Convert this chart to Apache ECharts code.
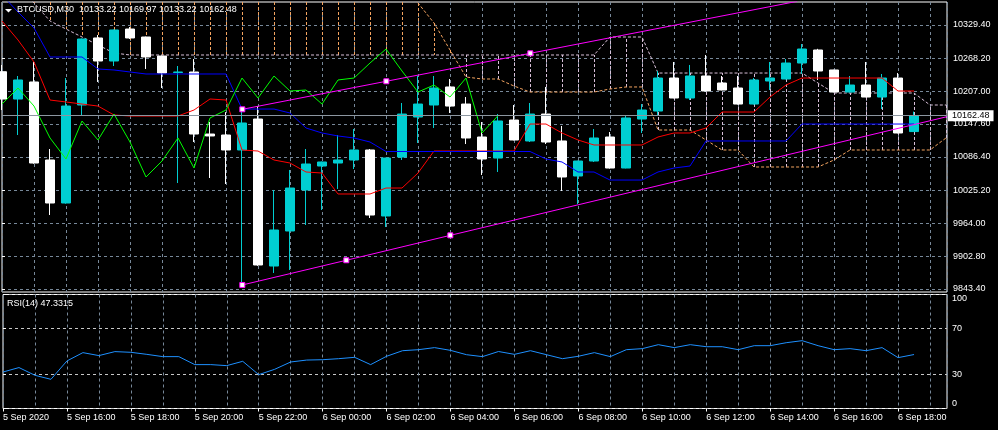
<!DOCTYPE html>
<html><head><meta charset="utf-8">
<script src="https://cdn.jsdelivr.net/npm/echarts@6/dist/echarts.min.js"></script>
<style>html,body{margin:0;padding:0;background:#000;}#c{width:998px;height:430px;}</style>
</head><body><div id="c"></div>
<script>
// ---- data (BTCUSD, M30; bar 0 = 5 Sep 2020 14:00) ----
const opens  = [10243.4,10193.1,10224.5,10080.9,10001.7,10182.1,10305.5,10263.1,10322.0,10307.3,10272.3,10242.0,10242.9,10128.7,10126.9,10099.3,10156.3,9885.7,9950.2,10025.7,10069.8,10075.3,10080.9,10099.3,9977.8,10086.3,10160.0,10182.1,10215.3,10183.9,10123.2,10084.5,10154.5,10115.9,10165.5,10115.9,10051.4,10079.0,10123.2,10066.1,10156.3,10171.0,10231.8,10195.0,10235.5,10222.6,10213.4,10183.9,10226.3,10230.0,10259.4,10283.4,10246.6,10206.0,10218.9,10196.8,10231.8,10133.22];
const closes = [10193.1,10228.2,10075.3,10001.7,10180.2,10303.6,10263.1,10320.2,10305.5,10270.5,10241.0,10242.9,10128.7,10125.1,10099.3,10149.0,9887.6,9952.0,10029.3,10073.5,10077.2,10080.9,10099.3,9979.6,10084.5,10165.5,10183.9,10213.4,10180.2,10121.4,10082.7,10152.7,10117.7,10165.5,10114.0,10049.6,10079.0,10121.4,10066.1,10158.2,10172.9,10231.8,10195.0,10235.5,10207.9,10209.7,10183.9,10228.2,10231.8,10259.4,10285.2,10244.7,10206.0,10218.9,10196.8,10231.8,10130.6,10162.48];
const highs  = [10255.8,10235.5,10261.3,10101.1,10231.8,10304.5,10311.0,10321.0,10325.7,10308.0,10273.0,10253.9,10266.8,10150.8,10169.0,10174.7,10180.2,10025.7,10062.5,10101.1,10078.0,10126.9,10137.9,10101.1,10085.0,10185.8,10235.5,10235.5,10230.0,10196.8,10150.8,10165.5,10182.1,10185.8,10215.3,10143.5,10079.5,10137.9,10132.4,10163.7,10183.9,10244.7,10261.3,10255.8,10274.2,10235.5,10235.5,10231.8,10261.3,10266.8,10294.4,10285.5,10247.0,10235.5,10261.3,10239.2,10241.0,10169.97];
const lows   = [10172.9,10126.9,10074.0,9979.6,10000.5,10161.9,10224.5,10253.9,10303.6,10248.4,10213.4,10038.5,10114.0,10047.7,10036.7,9850.8,9886.0,9872.9,9878.4,9961.2,9988.8,10027.5,10064.3,9974.1,9957.5,10080.9,10112.2,10139.8,10167.4,10110.3,10053.3,10058.8,10117.0,10114.0,10110.3,10023.8,9999.9,10077.2,10065.0,10065.5,10130.6,10163.7,10194.5,10191.3,10207.0,10209.0,10183.0,10183.0,10209.7,10229.5,10239.2,10228.2,10205.5,10205.5,10196.5,10174.7,10130.0,10133.22];

const tenkan = [10336.8,10301.8,10261.3,10191.3,10187.7,10183.9,10180.2,10163.7,10161.9,10161.9,10161.9,10161.9,10172.9,10193.2,10191.3,10099.3,10097.4,10080.9,10075.3,10058.8,10056.9,10018.3,10018.3,10018.3,10029.3,10029.3,10056.9,10097.4,10097.4,10097.4,10097.4,10097.4,10097.4,10147.1,10147.1,10130.6,10117.7,10108.5,10108.5,10108.5,10108.5,10123.2,10130.6,10130.6,10139.8,10169.2,10169.2,10169.2,10196.8,10218.9,10231.8,10231.8,10231.8,10231.8,10231.8,10231.8,10207.9,10207.9];
const kijun  = [10384.6,10353.3,10323.9,10270.5,10270.5,10270.5,10248.4,10246.6,10242.9,10239.2,10239.2,10239.2,10239.2,10239.2,10239.2,10174.7,10174.7,10174.7,10167.4,10139.8,10130.6,10125.1,10121.4,10114.0,10096.5,10096.5,10096.5,10096.5,10096.5,10096.5,10096.5,10096.5,10096.5,10096.5,10082.7,10077.2,10058.8,10058.8,10044.0,10044.0,10044.0,10058.8,10066.1,10069.8,10115.9,10115.9,10115.9,10115.9,10115.9,10115.9,10147.1,10147.1,10147.1,10147.1,10147.1,10147.1,10147.1,10147.1];
const chikou = [10183.9,10213.4,10180.2,10121.4,10082.7,10152.7,10117.7,10165.5,10114.0,10049.6,10079.0,10121.4,10066.1,10158.2,10172.9,10231.8,10195.0,10235.5,10207.9,10209.7,10183.9,10228.2,10231.8,10259.4,10285.2,10244.7,10206.0,10218.9,10196.8,10231.8,10130.6,10162.48];
const spanA  = [10410,10410,10410,10410,10410,10410,10410,10410,10410,10410,10410,10410,10410,10410,10410,10410,10410,10410,10410,10410,10410,10410,10410,10410,10410,10406,10369.9,10333.1,10283.4,10233.7,10230.0,10230.0,10217.1,10206.0,10206.0,10206.0,10206.0,10206.0,10211.6,10215.3,10215.3,10136.1,10136.1,10136.1,10117.7,10099.3,10099.3,10068.0,10068.0,10068.0,10068.0,10068.0,10080.9,10099.3,10099.3,10099.3,10099.3,10099.3,10099.3,10121.4];
const spanB  = [10420,10400,10370,10336.8,10322.0,10307.3,10292.6,10277.8,10274.2,10274.2,10274.2,10274.2,10274.2,10274.2,10274.2,10274.2,10274.2,10274.2,10274.2,10274.2,10274.2,10274.2,10274.2,10274.2,10274.2,10274.2,10274.2,10274.2,10274.2,10274.2,10274.2,10274.2,10274.2,10274.2,10274.2,10274.2,10274.2,10274.2,10307.3,10307.3,10307.3,10241.0,10241.0,10241.0,10241.0,10241.0,10241.0,10241.0,10241.0,10241.0,10241.0,10222.6,10204.2,10204.2,10204.2,10204.2,10204.2,10204.2,10182.1,10182.1];
const rsi    = [32,35.9,29.1,25.6,41.7,49,46.4,49.9,49.3,47.5,45.5,45.5,38.5,38.5,37.6,41.4,29.7,34.4,40.8,42.5,42.8,43.7,44.9,38.5,45.8,50.7,51.6,53.4,51,47.2,45.5,50,47.5,50.7,47.2,43.7,45.8,49,45.5,51.6,52.5,56,53.4,56,54.2,54.2,51.6,55.1,55.1,57.7,59.5,55.1,51.6,52.5,50.7,53.4,44.6,47.33];

// trend lines: [bar, price]; last point is where the ray leaves the chart
const upperTrend = [[15.02,10174.2],[24.02,10225.8],[33.02,10277.3],[49.7,10373]];
const lowerTrend = [[15.02,9850.8],[21.52,9896.3],[28.02,9942.2],[59.06,10160.6]];

const priceTicks = [9843.40,9902.80,9964.00,10025.20,10086.40,10147.60,10207.00,10268.20,10329.40];
const rsiTicks = [0,30,70,100];
const timeLabels = ["5 Sep 2020","5 Sep 16:00","5 Sep 18:00","5 Sep 20:00","5 Sep 22:00","6 Sep 00:00","6 Sep 02:00","6 Sep 04:00","6 Sep 06:00","6 Sep 08:00","6 Sep 10:00","6 Sep 12:00","6 Sep 14:00","6 Sep 16:00","6 Sep 18:00"];
const headerText = "BTCUSD,M30  10133.22 10169.97 10133.22 10162.48";
const rsiText = "RSI(14) 47.3315";
const lastPrice = 10162.48;

// ---- chart ----
const FONT = 'Liberation Sans';
const GRID = '#778899';
const xMax = 59.0625;
const labelTicks = timeLabels.map((_, i) => i * 4);

const candleData = opens.map((o, i) => [i, o, closes[i], lows[i], highs[i]]);
const toXY = arr => arr.map((v, i) => [i, v]);
const cloudData = spanA.map((a, i) => [i, a, spanB[i]]);
const trendData = arr => arr.map((p, i) => i < arr.length - 1 ? {value: p} : {value: p, symbol: 'none'});

const chart = echarts.init(document.getElementById('c'), null, {renderer: 'canvas'});
chart.setOption({
  backgroundColor: '#000000',
  animation: false,
  textStyle: {fontFamily: FONT},
  grid: [
    {left: 2, top: 2, width: 945, height: 290, show: true, borderColor: '#ffffff', borderWidth: 1, backgroundColor: 'transparent'},
    {left: 2, top: 294.5, width: 945, height: 114, show: true, borderColor: '#ffffff', borderWidth: 1, backgroundColor: 'transparent'}
  ],
  xAxis: [
    {gridIndex: 0, type: 'value', min: 0, max: xMax, interval: 2,
     axisLine: {show: false}, axisTick: {show: false}, axisLabel: {show: false},
     splitLine: {show: true, lineStyle: {color: GRID, type: [3, 3], width: 1}}},
    {gridIndex: 1, type: 'value', min: 0, max: xMax, interval: 2,
     axisLine: {show: false}, axisTick: {show: false}, axisLabel: {show: false},
     splitLine: {show: true, lineStyle: {color: GRID, type: [3, 3], width: 1}}},
    {gridIndex: 1, type: 'value', min: 0, max: xMax, position: 'bottom',
     axisLine: {show: false},
     axisTick: {show: true, customValues: labelTicks, length: 3, lineStyle: {color: '#ffffff'}},
     axisLabel: {show: true, customValues: labelTicks, align: 'left', margin: 5, color: '#ffffff',
                 fontFamily: FONT, fontSize: 9,
                 formatter: v => timeLabels[Math.round(v / 4)] || ''},
     splitLine: {show: false}}
  ],
  yAxis: [
    {gridIndex: 0, type: 'value', position: 'right', min: 9837.88, max: 10371.74, scale: true,
     axisLine: {show: false},
     axisTick: {show: true, customValues: priceTicks, length: 3, lineStyle: {color: '#ffffff'}},
     axisLabel: {show: true, customValues: priceTicks, margin: 6, color: '#ffffff', fontFamily: FONT, fontSize: 9,
                 formatter: v => Number(v).toFixed(2)},
     splitLine: {show: true, lineStyle: {color: GRID, type: [3, 3], width: 1}}},
    {gridIndex: 1, type: 'value', position: 'right', min: 0, max: 100,
     axisLine: {show: false},
     axisTick: {show: true, customValues: rsiTicks, length: 3, lineStyle: {color: '#ffffff'}},
     axisLabel: {show: true, customValues: rsiTicks, margin: 5, color: '#ffffff', fontFamily: FONT, fontSize: 9,
                 verticalAlignMaxLabel: 'top', verticalAlignMinLabel: 'bottom',
                 formatter: v => String(v)},
     splitLine: {show: true, lineStyle: {color: '#c8c8c8', type: [3, 3], width: 1}}}
  ],
  graphic: [
    {type: 'polygon', z: 100, shape: {points: [[5, 9], [12, 9], [8.5, 12.5]]}, style: {fill: '#ffffff'}},
    {type: 'text', z: 100, left: 17, top: 5, style: {text: headerText, fill: '#ffffff', font: '9px "Liberation Sans"'}},
    {type: 'text', z: 100, left: 7, top: 299, style: {text: rsiText, fill: '#ffffff', font: '9px "Liberation Sans"'}}
  ],
  series: [
    {name: 'cloud', type: 'custom', xAxisIndex: 0, yAxisIndex: 0, z: 1, silent: true,
     encode: {x: 0, y: [1, 2]}, data: cloudData,
     renderItem: (params, api) => {
       const x = api.value(0), a = api.value(1), b = api.value(2);
       const p1 = api.coord([x, a]), p2 = api.coord([x, b]);
       const cs = params.coordSys;
       const t = cs.y, bt = cs.y + cs.height;
       if (p1[0] < cs.x || p1[0] > cs.x + cs.width) return null;
       const y1 = Math.max(t, Math.min(bt, p1[1])), y2 = Math.max(t, Math.min(bt, p2[1]));
       if (Math.abs(y1 - y2) < 0.5) return null;
       const px = Math.round(p1[0]) + 0.5;
       return {type: 'line', shape: {x1: px, y1: y1, x2: px, y2: y2},
               style: {stroke: a >= b ? '#F4A460' : '#D8BFD8', lineWidth: 1, lineDash: [3, 2]}};
     }},
    {name: 'Senkou A', type: 'line', xAxisIndex: 0, yAxisIndex: 0, z: 1, data: toXY(spanA), symbol: 'none',
     lineStyle: {color: '#F4A460', width: 1, type: [3, 2]}},
    {name: 'Senkou B', type: 'line', xAxisIndex: 0, yAxisIndex: 0, z: 1, data: toXY(spanB), symbol: 'none',
     lineStyle: {color: '#D8BFD8', width: 1, type: [3, 2]}},
    {name: 'BTCUSD', type: 'candlestick', xAxisIndex: 0, yAxisIndex: 0, z: 2,
     encode: {x: 0, y: [1, 2, 3, 4]}, data: candleData, barWidth: 10,
     itemStyle: {color: '#00CED1', color0: '#FFFFFF', borderColor: '#00CED1', borderColor0: '#FFFFFF', borderWidth: 1},
     markLine: {silent: true, symbol: ['none', 'none'], data: [{yAxis: lastPrice}],
       lineStyle: {color: '#8c96a0', type: 'solid', width: 1},
       label: {show: true, position: 'end', distance: 1, formatter: lastPrice.toFixed(2),
               backgroundColor: '#ffffff', color: '#000000', fontFamily: FONT, fontSize: 9,
               padding: [1, 4, 0, 4], lineHeight: 10}}},
    {name: 'Tenkan', type: 'line', xAxisIndex: 0, yAxisIndex: 0, z: 3, data: toXY(tenkan), symbol: 'none',
     lineStyle: {color: '#FF0000', width: 1}},
    {name: 'Kijun', type: 'line', xAxisIndex: 0, yAxisIndex: 0, z: 3, data: toXY(kijun), symbol: 'none',
     lineStyle: {color: '#0000FF', width: 1}},
    {name: 'Chikou', type: 'line', xAxisIndex: 0, yAxisIndex: 0, z: 3, data: toXY(chikou), symbol: 'none',
     lineStyle: {color: '#00FF00', width: 1}},
    {name: 'Upper trend', type: 'line', xAxisIndex: 0, yAxisIndex: 0, z: 4, data: trendData(upperTrend),
     symbol: 'rect', symbolSize: 5, showAllSymbol: true,
     itemStyle: {color: '#ffffff', borderColor: '#FF00FF', borderWidth: 1},
     lineStyle: {color: '#FF00FF', width: 1}},
    {name: 'Lower trend', type: 'line', xAxisIndex: 0, yAxisIndex: 0, z: 4, data: trendData(lowerTrend),
     symbol: 'rect', symbolSize: 5, showAllSymbol: true,
     itemStyle: {color: '#ffffff', borderColor: '#FF00FF', borderWidth: 1},
     lineStyle: {color: '#FF00FF', width: 1}},
    {name: 'RSI', type: 'line', xAxisIndex: 1, yAxisIndex: 1, z: 3, data: toXY(rsi), symbol: 'none',
     lineStyle: {color: '#1E90FF', width: 1}}
  ]
});
</script></body></html>
